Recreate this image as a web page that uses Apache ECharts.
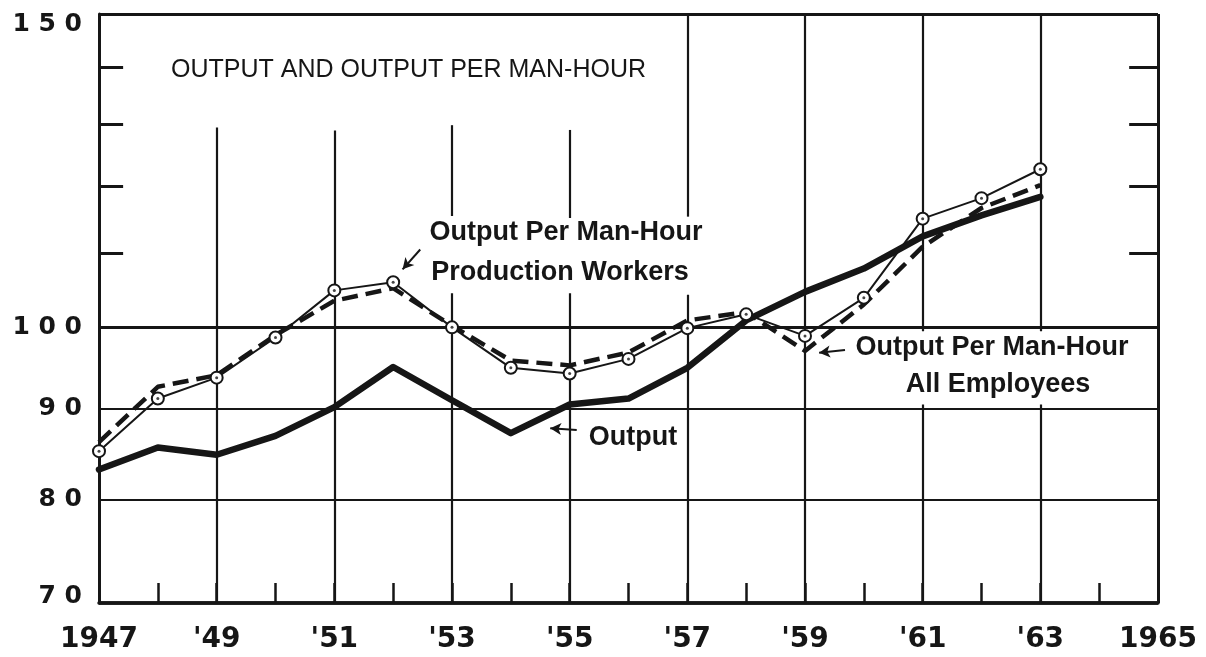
<!DOCTYPE html>
<html>
<head>
<meta charset="utf-8">
<script src="https://cdn.jsdelivr.net/npm/echarts@6/dist/echarts.min.js"></script>
<style>
  html, body { margin: 0; padding: 0; background: #ffffff; }
  #chart { width: 1206px; height: 657px; }
</style>
</head>
<body>
<div id="chart"></div>
<script>
// Index values, 1947-1963
const years = [1947, 1948, 1949, 1950, 1951, 1952, 1953, 1954, 1955, 1956, 1957, 1958, 1959, 1960, 1961, 1962, 1963];
const outputIndex = [83.2, 85.6, 84.8, 86.9, 90.2, 95.0, 91.0, 87.2, 90.5, 91.2, 94.9, 100.9, 104.7, 107.9, 112.5, 115.6, 118.4];
const prodWorkersIndex = [85.2, 91.2, 93.7, 98.7, 104.9, 106.0, 100.0, 94.9, 94.2, 96.0, 99.9, 101.7, 98.9, 103.9, 115.1, 118.2, 122.7];
const allEmployeesIndex = [86.2, 92.6, 94.0, 99.0, 103.5, 105.2, 100.2, 95.8, 95.2, 96.8, 100.9, 102.0, 97.0, 103.0, 111.0, 116.7, 120.2];

// Axis labelling
const xLabelYears = [1947, 1949, 1951, 1953, 1955, 1957, 1959, 1961, 1963, 1965];
const xLabelTexts = ['1947', "'49", "'51", "'53", "'55", "'57", "'59", "'61", "'63", '1965'];
const yMajorValues = [70, 80, 90, 100, 150];
const yMajorTexts = ['7 0', '8 0', '9 0', '1 0 0', '1 5 0'];
const yMinorValues = [110, 120, 130, 140];

const INK = '#161616';
const pairs = vals => years.map((y, i) => [y, vals[i]]);

// Horizontal rules at the labelled index levels, value text at the left end
const hRules = yMajorValues.map((v, i) => ({
  yAxis: v,
  lineStyle: { width: v === 70 ? 3.5 : (v === 100 || v === 150) ? 2.8 : 2.2 },
  label: {
    show: true,
    formatter: yMajorTexts[i],
    offset: [0, v === 70 ? -7 : v === 150 ? 10 : 0]
  }
}));

// Vertical rules at odd years, broken where the lettering sits
const vRuleSpans = [
  [1949, 70, 129.5],
  [1951, 70, 129.0],
  [1953, 70, 104.5], [1953, 115.5, 129.9],
  [1955, 70, 104.5], [1955, 115.2, 129.1],
  [1957, 70, 104.3], [1957, 115.4, 150],
  [1959, 70, 150],
  [1961, 70, 90.5], [1961, 99.5, 150],
  [1963, 70, 90.5], [1963, 99.5, 150]
];
const vRules = vRuleSpans.map(([x, y0, y1]) => [
  { coord: [x, y0], lineStyle: { width: 2.2 }, label: { show: false } },
  { coord: [x, y1] }
]);

// Frame sides and the short scale marks between 100 and 150
const frame = [
  { xAxis: 1947, lineStyle: { width: 3 }, label: { show: false } },
  { xAxis: 1965, lineStyle: { width: 3 }, label: { show: false } }
];
const minorMarks = [];
yMinorValues.forEach(v => {
  minorMarks.push([{ coord: [1947, v], lineStyle: { width: 3 }, label: { show: false } }, { coord: [1947.41, v] }]);
  minorMarks.push([{ coord: [1964.51, v], lineStyle: { width: 3 }, label: { show: false } }, { coord: [1965, v] }]);
});

// Pointer arrows from the captions to their lines
const arrows = [
  [[1952.46, 110.6], [1952.16, 107.8]],
  [[1955.12, 87.56], [1954.67, 87.76]],
  [[1959.68, 97.11], [1959.24, 96.77]]
].map(([a, b]) => [{ coord: a, label: { show: false } }, { coord: b }]);

const labelFont = '"Liberation Sans", Arial, sans-serif';
const tickFont = '"DejaVu Sans", sans-serif';

const chart = echarts.init(document.getElementById('chart'), null, { renderer: 'canvas' });

chart.setOption({
  animation: false,
  backgroundColor: '#ffffff',
  grid: { left: 99, right: 48, top: 14, bottom: 54, containLabel: false },
  xAxis: {
    type: 'value',
    min: 1947,
    max: 1965,
    interval: 1,
    axisLine: { show: true, lineStyle: { color: INK, width: 3.5 } },
    axisTick: { show: true, inside: true, length: 20, lineStyle: { color: INK, width: 2.5 } },
    splitLine: { show: false },
    axisLabel: {
      margin: 23,
      color: INK,
      fontFamily: tickFont,
      fontWeight: 'bold',
      fontSize: 28,
      formatter: v => {
        const i = xLabelYears.indexOf(Math.round(v));
        return i >= 0 ? xLabelTexts[i] : '';
      }
    }
  },
  yAxis: {
    type: 'log',
    logBase: 10,
    min: 70,
    max: 150,
    axisLine: { show: true, lineStyle: { color: INK, width: 3 } },
    axisTick: { show: false },
    axisLabel: { show: false },
    splitLine: { show: false }
  },
  graphic: [
    {
      type: 'text', x: 171, y: 70, silent: true,
      style: { text: 'OUTPUT AND OUTPUT PER MAN-HOUR', fill: INK, font: 'normal 25px ' + labelFont, textAlign: 'left', textVerticalAlign: 'middle' }
    },
    {
      type: 'text', x: 566, y: 233, silent: true,
      style: { text: 'Output Per Man-Hour', fill: INK, font: 'bold 27px ' + labelFont, textAlign: 'center', textVerticalAlign: 'middle' }
    },
    {
      type: 'text', x: 560, y: 273, silent: true,
      style: { text: 'Production Workers', fill: INK, font: 'bold 27px ' + labelFont, textAlign: 'center', textVerticalAlign: 'middle' }
    },
    {
      type: 'text', x: 633, y: 438, silent: true,
      style: { text: 'Output', fill: INK, font: 'bold 27px ' + labelFont, textAlign: 'center', textVerticalAlign: 'middle' }
    },
    {
      type: 'text', x: 992, y: 348, silent: true,
      style: { text: 'Output Per Man-Hour', fill: INK, font: 'bold 27px ' + labelFont, textAlign: 'center', textVerticalAlign: 'middle' }
    },
    {
      type: 'text', x: 998, y: 385, silent: true,
      style: { text: 'All Employees', fill: INK, font: 'bold 27px ' + labelFont, textAlign: 'center', textVerticalAlign: 'middle' }
    }
  ],
  series: [
    {
      // ruling of the chart paper
      name: 'rules',
      type: 'line',
      data: [],
      silent: true,
      markLine: {
        z: 1,
        silent: true,
        symbol: ['none', 'none'],
        lineStyle: { color: INK, type: 'solid', width: 2.2 },
        label: {
          show: true,
          position: 'start',
          distance: 17,
          color: INK,
          fontFamily: tickFont,
          fontWeight: 'bold',
          fontSize: 25
        },
        emphasis: { disabled: true },
        data: hRules.concat(frame, vRules, minorMarks)
      }
    },
    {
      name: 'arrows',
      type: 'line',
      data: [],
      silent: true,
      markLine: {
        z: 8,
        silent: true,
        symbol: ['none', 'arrow'],
        symbolSize: [9, 11],
        lineStyle: { color: INK, type: 'solid', width: 2 },
        itemStyle: { color: INK },
        label: { show: false },
        emphasis: { disabled: true },
        data: arrows
      }
    },
    {
      name: 'Output',
      type: 'line',
      z: 4,
      data: pairs(outputIndex),
      symbol: 'none',
      lineStyle: { color: INK, width: 6.5, join: 'round', cap: 'round' }
    },
    {
      name: 'Output Per Man-Hour, All Employees',
      type: 'line',
      z: 5,
      data: pairs(allEmployeesIndex),
      symbol: 'none',
      lineStyle: { color: INK, width: 4.5, type: [16, 8] }
    },
    {
      name: 'Output Per Man-Hour, Production Workers',
      type: 'line',
      z: 6,
      data: pairs(prodWorkersIndex),
      symbol: 'circle',
      symbolSize: 12,
      itemStyle: { color: '#ffffff', borderColor: INK, borderWidth: 2 },
      lineStyle: { color: INK, width: 2 }
    },
    {
      name: 'Production Workers centres',
      type: 'scatter',
      z: 7,
      data: pairs(prodWorkersIndex),
      symbol: 'circle',
      symbolSize: 3,
      itemStyle: { color: INK }
    }
  ]
});
</script>
</body>
</html>
